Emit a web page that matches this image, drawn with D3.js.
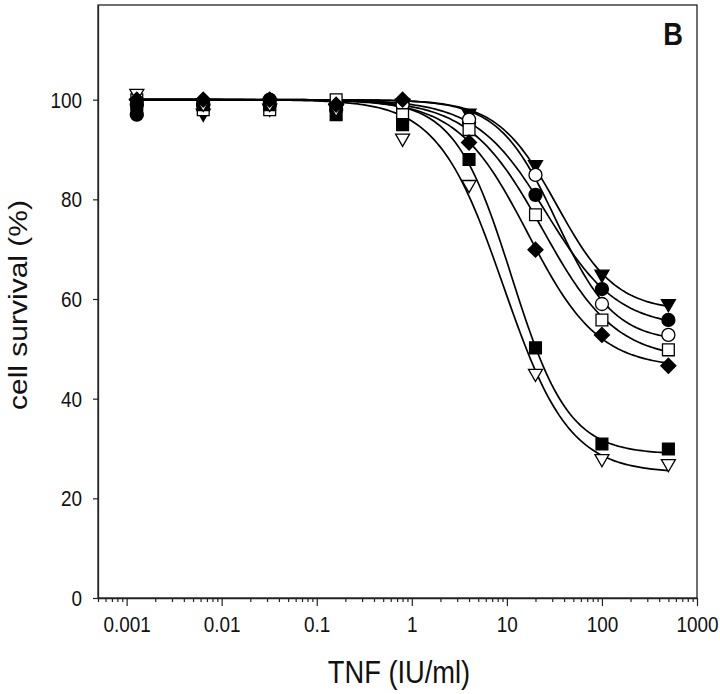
<!DOCTYPE html>
<html><head><meta charset="utf-8">
<script src="https://cdn.jsdelivr.net/npm/d3@7"></script>
<style>
body{margin:0;background:#fff}
svg{display:block}
text{font-family:"Liberation Sans",Arial,Helvetica,sans-serif;fill:#111}
</style>
</head><body>
<svg id="c" width="720" height="694"></svg>
<script>
// ---- data ----
const doses = [0.00128, 0.0064, 0.032, 0.16, 0.8, 4, 20, 100, 500];
const triDownFilled = [99, 97, 98, 98, 99, 97, 86.7, 64.7, 58.8];
const circleFilled  = [97, 99, 100, 98, 99, 95.4, 80.9, 62, 55.8];
const circleOpen    = [99, 99, 99, 99, 99, 96, 84.9, 59, 52.8];
const squareOpen    = [100, 98, 98, 100, 97, 94, 76.9, 55.8, 49.8];
const diamondFilled = [100, 100, 100, 99, 100, 91.4, 69.9, 52.8, 46.6];
const squareFilled  = [99, 99, 99, 97, 95, 88, 50.2, 30.9, 29.9];
const triDownOpen   = [101, 99, 99, 98, 92, 82.7, 44.8, 27.7, 26.7];
const xTicks = [0.001, 0.01, 0.1, 1, 10, 100, 1000];
const xTickLabels = ["0.001", "0.01", "0.1", "1", "10", "100", "1000"];
const yTicks = [0, 20, 40, 60, 80, 100];
const xTitle = "TNF (IU/ml)";
const yTitle = "cell survival (%)";
const panelLabel = "B";
const TOP = 100; // normalised survival plateau

const series = [
  {name: "triDownFilled", values: triDownFilled, shape: "tri", filled: true},
  {name: "circleFilled",  values: circleFilled,  shape: "circle", filled: true},
  {name: "circleOpen",    values: circleOpen,    shape: "circle", filled: false},
  {name: "squareOpen",    values: squareOpen,    shape: "square", filled: false},
  {name: "squareFilled",  values: squareFilled,  shape: "square", filled: true},
  {name: "triDownOpen",   values: triDownOpen,   shape: "tri", filled: false},
  {name: "diamondFilled", values: diamondFilled, shape: "diamond", filled: true}
];

// ---- layout ----
const L = 98, R = 697, T = 5, B = 598;
const SX = 0.88; // horizontal text compression seen in reference
const svg = d3.select("#c");
const x = d3.scaleLog().domain([0.0005, 1000]).range([L, R]);
const y = d3.scaleLinear().domain([0, 119]).range([B, T]);

// ---- 4-parameter logistic fit (top fixed) via Nelder-Mead ----
function nelderMead(fn, x0, steps, iters) {
  const n = x0.length;
  let pts = [x0.slice()];
  for (let i = 0; i < n; i++) { const p = x0.slice(); p[i] += steps[i]; pts.push(p); }
  let fv = pts.map(fn);
  for (let it = 0; it < iters; it++) {
    const idx = d3.range(n + 1).sort((a, b) => fv[a] - fv[b]);
    pts = idx.map(i => pts[i]); fv = idx.map(i => fv[i]);
    const c = d3.range(n).map(j => d3.mean(pts.slice(0, n), p => p[j]));
    const w = pts[n];
    const xr = c.map((cj, j) => cj + (cj - w[j])); const fr = fn(xr);
    if (fr < fv[0]) {
      const xe = c.map((cj, j) => cj + 2 * (cj - w[j])); const fe = fn(xe);
      if (fe < fr) { pts[n] = xe; fv[n] = fe; } else { pts[n] = xr; fv[n] = fr; }
    } else if (fr < fv[n - 1]) { pts[n] = xr; fv[n] = fr; }
    else {
      const xc = c.map((cj, j) => cj + 0.5 * (w[j] - cj)); const fc = fn(xc);
      if (fc < fv[n]) { pts[n] = xc; fv[n] = fc; }
      else {
        for (let i = 1; i <= n; i++) { pts[i] = pts[i].map((v, j) => pts[0][j] + 0.5 * (v - pts[0][j])); fv[i] = fn(pts[i]); }
      }
    }
  }
  const bi = d3.minIndex(fv);
  return pts[bi];
}
const logistic = (p, l) => p[0] + (TOP - p[0]) / (1 + Math.pow(10, p[2] * (l - p[1])));
function fitSeries(vals) {
  const lx = doses.map(Math.log10);
  const sse = p => (p[2] <= 0 ? 1e9 : 0) + d3.sum(lx, (l, i) => (logistic(p, l) - vals[i]) ** 2);
  return nelderMead(sse, [d3.min(vals), 1.2, 1.5], [5, 0.5, 0.5], 3000);
}

// ---- frame ----
svg.append("rect").attr("x", L).attr("y", T).attr("width", R - L).attr("height", B - T)
  .attr("fill", "none").attr("stroke", "#222").attr("stroke-width", 1.3);

// ---- x axis ----
const minor = [];
for (let e = -4; e <= 3; e++) for (let k = 1; k <= 9; k++) {
  const v = k * Math.pow(10, e);
  if (v >= 0.0005 && v <= 1000 && !xTicks.includes(+v.toPrecision(6))) minor.push(v);
}
const gxMinor = svg.append("g").attr("transform", `translate(0,${B})`)
  .call(d3.axisBottom(x).tickValues(minor).tickSize(4).tickFormat(""));
gxMinor.select(".domain").remove();
const gx = svg.append("g").attr("transform", `translate(0,${B})`)
  .call(d3.axisBottom(x).tickValues(xTicks).tickSize(8).tickSizeOuter(0)
    .tickFormat((d, i) => xTickLabels[i]));
gx.select(".domain").attr("stroke", "#222").attr("stroke-width", 1.3);
[gx, gxMinor].forEach(g => g.selectAll(".tick line").attr("stroke", "#222").attr("stroke-width", 1.2));
gx.selectAll(".tick text").attr("font-size", 21.5).attr("y", 0).attr("dy", 0)
  .attr("transform", `translate(0,34) scale(${SX},1)`).style("font-family", "Liberation Sans, Arial, sans-serif");

// ---- y axis ----
const gy = svg.append("g").attr("transform", `translate(${L},0)`)
  .call(d3.axisLeft(y).tickValues(yTicks).tickSize(5).tickSizeOuter(0));
gy.select(".domain").attr("stroke", "#222").attr("stroke-width", 1.3);
gy.selectAll(".tick line").attr("stroke", "#222").attr("stroke-width", 1.2);
gy.selectAll(".tick text").attr("font-size", 21.5).attr("x", 0).attr("dy", 0)
  .attr("transform", `translate(-16,7.5) scale(${SX},1)`).style("font-family", "Liberation Sans, Arial, sans-serif");
svg.selectAll(".tick text").attr("fill", "#111");

// ---- titles ----
svg.append("text").attr("transform", `translate(399,683) scale(${SX},1)`)
  .attr("text-anchor", "middle").attr("font-size", 31).text(xTitle);
svg.append("text").attr("transform", `translate(27,305) scale(${SX},1) rotate(-90)`)
  .attr("text-anchor", "middle").attr("font-size", 30).text(yTitle);
svg.append("text").attr("transform", `translate(673,45) scale(${SX},1)`)
  .attr("text-anchor", "middle").attr("font-size", 31).attr("font-weight", "bold").text(panelLabel);

// ---- fitted curves ----
const lmin = Math.log10(doses[0]), lmax = Math.log10(doses[doses.length - 1]);
const samples = d3.range(0, 201).map(i => lmin + (lmax - lmin) * i / 200);
const line = d3.line().x(d => x(Math.pow(10, d[0]))).y(d => y(d[1]));
const gc = svg.append("g");
series.forEach(s => {
  const p = fitSeries(s.values);
  gc.append("path").attr("d", line(samples.map(l => [l, logistic(p, l)])))
    .attr("fill", "none").attr("stroke", "#000").attr("stroke-width", 1.7);
});

// ---- markers ----
function shapePath(shape) {
  if (shape === "circle") { const r = 6.5; return `M${r},0A${r},${r} 0 1,1 ${-r},0A${r},${r} 0 1,1 ${r},0Z`; }
  if (shape === "square") { const h = 5.9; return `M${-h},${-h}H${h}V${h}H${-h}Z`; }
  if (shape === "diamond") { const h = 7.5; return `M0,${-h}L${h},0L0,${h}L${-h},0Z`; }
  // downward triangle
  return "M-7,-5.4L7,-5.4L0,6.8Z";
}
const gm = svg.append("g");
series.forEach(s => {
  gm.selectAll(null).data(doses.map((d, i) => [d, s.values[i]])).join("path")
    .attr("transform", d => `translate(${x(d[0])},${y(d[1])})`)
    .attr("d", shapePath(s.shape))
    .attr("fill", s.filled ? "#000" : "#fff")
    .attr("stroke", "#000").attr("stroke-width", 1.3);
});
</script>
</body></html>
